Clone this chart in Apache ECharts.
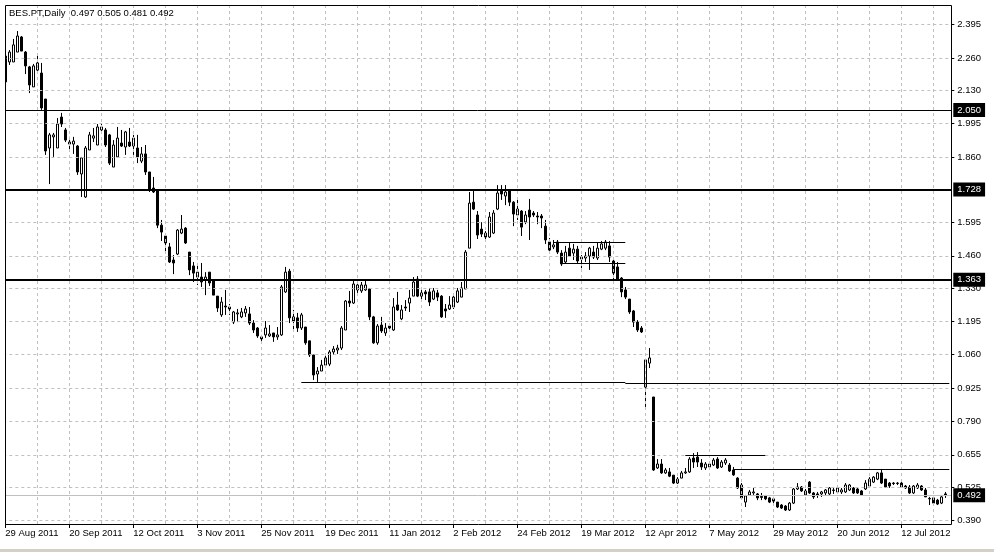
<!DOCTYPE html>
<html><head><meta charset="utf-8">
<script src="https://cdn.jsdelivr.net/npm/echarts@6/dist/echarts.min.js"></script>
<style>html,body{margin:0;padding:0;background:#fff;overflow:hidden}#c{width:994px;height:552px}</style>
</head><body><div id="c"></div>
<script>
const symbolName = 'BES.PT,Daily';
const tickLabels = ['29 Aug 2011','20 Sep 2011','12 Oct 2011','3 Nov 2011','25 Nov 2011','19 Dec 2011','11 Jan 2012','2 Feb 2012','24 Feb 2012','19 Mar 2012','12 Apr 2012','7 May 2012','29 May 2012','20 Jun 2012','12 Jul 2012'];
const priceLabels = [2.395,2.260,2.130,1.995,1.860,1.595,1.460,1.330,1.195,1.060,0.925,0.790,0.655,0.525,0.390];

const openP = [
2.163,2.244,2.244,2.284,2.345,2.284,2.224,2.143,2.211,2.199,
2.094,1.896,1.941,1.896,2.021,1.969,1.912,1.912,1.904,1.791,
1.698,1.888,1.936,1.908,1.969,1.969,1.949,1.819,1.860,1.916,
1.900,1.920,1.904,1.896,1.843,1.872,1.799,1.734,1.726,1.584,
1.540,1.496,1.443,1.467,1.552,1.572,1.475,1.419,1.374,1.374,
1.362,1.394,1.362,1.297,1.221,1.257,1.253,1.192,1.225,1.213,
1.229,1.225,1.188,1.168,1.132,1.140,1.136,1.148,1.132,1.140,
1.314,1.398,1.213,1.209,1.168,1.172,1.116,1.059,0.982,0.994,
1.018,1.022,1.071,1.079,1.087,1.160,1.277,1.269,1.322,1.318,
1.322,1.326,1.213,1.108,1.180,1.148,1.176,1.160,1.261,1.205,
1.253,1.269,1.297,1.366,1.297,1.314,1.314,1.285,1.310,1.297,
1.245,1.245,1.253,1.273,1.293,1.326,1.491,1.677,1.625,1.568,
1.552,1.536,1.552,1.649,1.722,1.702,1.722,1.677,1.625,1.641,
1.597,1.645,1.633,1.621,1.621,1.580,1.516,1.496,1.516,1.471,
1.435,1.491,1.471,1.487,1.447,1.451,1.459,1.475,1.451,1.487,
1.491,1.500,1.439,1.415,1.370,1.322,1.285,1.237,1.192,1.168,
0.929,1.026,0.889,0.602,0.618,0.582,0.586,0.573,0.541,0.561,
0.582,0.586,0.642,0.646,0.622,0.602,0.606,0.614,0.638,0.606,
0.622,0.614,0.594,0.561,0.533,0.464,0.493,0.501,0.497,0.487,
0.489,0.481,0.477,0.464,0.452,0.448,0.432,0.460,0.517,0.525,
0.493,0.545,0.501,0.497,0.497,0.501,0.497,0.513,0.505,0.505,
0.505,0.513,0.521,0.517,0.509,0.517,0.529,0.545,0.557,0.582,
0.557,0.541,0.541,0.539,0.541,0.529,0.525,0.501,0.521,0.529,
0.513,0.479,0.481,0.472,0.460,0.497];
const highP = [
2.284,2.292,2.337,2.369,2.349,2.288,2.228,2.236,2.272,2.240,
2.094,1.957,1.957,2.017,2.038,1.977,1.941,1.941,1.908,1.860,
1.904,1.961,1.977,1.993,1.997,1.977,1.953,1.928,1.981,1.969,
1.965,1.977,1.949,1.949,1.900,1.908,1.799,1.779,1.730,1.605,
1.552,1.512,1.463,1.568,1.625,1.576,1.475,1.435,1.431,1.431,
1.394,1.394,1.366,1.297,1.293,1.322,1.265,1.237,1.245,1.249,
1.257,1.253,1.200,1.172,1.140,1.196,1.180,1.148,1.172,1.342,
1.415,1.407,1.241,1.229,1.229,1.172,1.116,1.059,1.010,1.039,
1.059,1.079,1.095,1.100,1.176,1.281,1.318,1.359,1.362,1.354,
1.359,1.330,1.217,1.184,1.213,1.188,1.184,1.289,1.314,1.261,
1.281,1.322,1.374,1.378,1.330,1.322,1.330,1.330,1.322,1.301,
1.265,1.297,1.301,1.330,1.354,1.483,1.718,1.722,1.641,1.596,
1.560,1.637,1.645,1.746,1.746,1.746,1.726,1.681,1.686,1.645,
1.641,1.690,1.641,1.637,1.629,1.605,1.532,1.524,1.524,1.483,
1.500,1.512,1.508,1.500,1.463,1.475,1.496,1.500,1.512,1.520,
1.524,1.520,1.443,1.435,1.374,1.334,1.285,1.241,1.200,1.176,
1.043,1.087,0.889,0.638,0.638,0.602,0.602,0.573,0.565,0.590,
0.602,0.646,0.662,0.666,0.638,0.626,0.630,0.642,0.646,0.634,
0.642,0.622,0.606,0.565,0.541,0.493,0.513,0.521,0.501,0.501,
0.493,0.485,0.485,0.464,0.456,0.452,0.464,0.521,0.541,0.529,
0.517,0.549,0.505,0.505,0.509,0.517,0.525,0.521,0.525,0.521,
0.541,0.537,0.525,0.521,0.513,0.553,0.565,0.569,0.586,0.598,
0.557,0.545,0.545,0.545,0.545,0.533,0.533,0.533,0.541,0.533,
0.521,0.485,0.485,0.477,0.493,0.505];
const lowP = [
2.159,2.232,2.244,2.284,2.288,2.195,2.118,2.143,2.203,2.050,
1.868,1.750,1.860,1.896,1.981,1.920,1.880,1.872,1.787,1.698,
1.694,1.888,1.920,1.908,1.957,1.900,1.827,1.819,1.860,1.900,
1.868,1.900,1.868,1.835,1.835,1.787,1.718,1.714,1.572,1.520,
1.471,1.431,1.386,1.463,1.548,1.508,1.382,1.354,1.342,1.334,
1.301,1.338,1.301,1.233,1.213,1.221,1.221,1.184,1.192,1.208,
1.213,1.180,1.148,1.128,1.108,1.128,1.132,1.112,1.120,1.136,
1.310,1.188,1.152,1.152,1.160,1.100,1.051,0.958,0.950,0.994,
1.010,1.014,1.059,1.063,1.079,1.160,1.253,1.265,1.310,1.310,
1.318,1.200,1.104,1.100,1.148,1.136,1.152,1.156,1.237,1.200,
1.237,1.233,1.297,1.293,1.281,1.281,1.257,1.281,1.277,1.209,
1.209,1.241,1.245,1.269,1.293,1.326,1.491,1.645,1.528,1.536,
1.516,1.532,1.548,1.645,1.686,1.665,1.661,1.580,1.605,1.540,
1.588,1.524,1.617,1.588,1.572,1.508,1.475,1.487,1.467,1.419,
1.427,1.455,1.443,1.431,1.410,1.435,1.403,1.447,1.443,1.483,
1.483,1.435,1.366,1.362,1.293,1.285,1.225,1.172,1.152,1.148,
0.849,1.006,0.590,0.598,0.578,0.578,0.565,0.537,0.537,0.561,
0.578,0.582,0.602,0.606,0.594,0.594,0.598,0.610,0.598,0.602,
0.614,0.586,0.570,0.517,0.477,0.444,0.489,0.493,0.472,0.472,
0.472,0.460,0.460,0.440,0.436,0.428,0.428,0.456,0.513,0.505,
0.489,0.497,0.477,0.481,0.485,0.489,0.493,0.497,0.501,0.497,
0.501,0.509,0.497,0.497,0.489,0.513,0.525,0.541,0.553,0.537,
0.521,0.521,0.533,0.533,0.521,0.517,0.497,0.497,0.517,0.509,
0.485,0.452,0.452,0.452,0.456,0.481];
const closeP = [
2.268,2.284,2.313,2.349,2.288,2.228,2.151,2.228,2.240,2.058,
1.884,1.949,1.949,1.993,1.993,1.928,1.920,1.924,1.799,1.856,
1.896,1.949,1.945,1.981,1.981,1.908,1.835,1.908,1.936,1.904,
1.961,1.904,1.936,1.860,1.872,1.799,1.726,1.718,1.584,1.556,
1.512,1.435,1.431,1.564,1.568,1.512,1.403,1.390,1.394,1.354,
1.374,1.350,1.301,1.249,1.273,1.253,1.245,1.233,1.229,1.233,
1.245,1.188,1.160,1.136,1.124,1.168,1.144,1.132,1.140,1.334,
1.394,1.209,1.196,1.168,1.221,1.108,1.059,0.978,0.994,1.018,
1.047,1.071,1.083,1.087,1.168,1.277,1.269,1.346,1.342,1.342,
1.342,1.213,1.108,1.176,1.156,1.168,1.168,1.253,1.241,1.241,
1.249,1.289,1.354,1.297,1.310,1.306,1.273,1.318,1.293,1.213,
1.237,1.261,1.293,1.318,1.330,1.475,1.673,1.649,1.544,1.548,
1.536,1.617,1.633,1.714,1.710,1.718,1.677,1.629,1.649,1.576,
1.625,1.617,1.625,1.617,1.613,1.524,1.483,1.504,1.475,1.427,
1.475,1.459,1.487,1.439,1.455,1.459,1.491,1.455,1.491,1.508,
1.516,1.455,1.390,1.362,1.314,1.293,1.233,1.192,1.160,1.152,
1.039,1.047,0.594,0.618,0.582,0.594,0.569,0.541,0.557,0.582,
0.586,0.638,0.626,0.626,0.606,0.618,0.618,0.634,0.602,0.626,
0.634,0.590,0.574,0.521,0.481,0.489,0.505,0.505,0.481,0.483,
0.477,0.464,0.468,0.444,0.440,0.432,0.460,0.517,0.525,0.509,
0.509,0.501,0.485,0.493,0.505,0.513,0.521,0.511,0.521,0.513,
0.533,0.533,0.501,0.501,0.493,0.541,0.557,0.565,0.582,0.541,
0.525,0.529,0.539,0.541,0.525,0.521,0.501,0.529,0.533,0.513,
0.485,0.477,0.460,0.456,0.485,0.492];

// horizontal price levels (full width) and their widths
const levelPrices = [2.050, 1.728, 1.363];
const levelWidths = [1, 2, 2];
// short trend segments: start bar, end bar, price
const segStart = [74, 155, 137, 139, 170, 182];
const segEnd   = [155, 236, 155, 155, 190, 236];
const segPrice = [0.950, 0.946, 1.516, 1.431, 0.652, 0.598];

const FONT = 'Liberation Sans';
const n = openP.length;
const categories = [];
for (let i = 0; i <= n; i++) categories.push(String(i));
const candles = openP.map((o, i) => [o, closeP[i], lowP[i], highP[i]]);
const lastPrice = closeP[n - 1];
const fmt3 = v => Number(v).toFixed(3);

const gridLines = [];
priceLabels.forEach(p => gridLines.push({ yAxis: p }));
for (let k = 8; k < n; k += 8) gridLines.push({ xAxis: k });

const objLines = [];
levelPrices.forEach((p, i) => objLines.push({
  yAxis: p,
  lineStyle: { color: '#000', width: levelWidths[i], type: 'solid' },
  label: { show: true }
}));
segPrice.forEach((p, i) => objLines.push([
  { coord: [segStart[i], p], lineStyle: { color: '#000', width: 1, type: 'solid' }, label: { show: false } },
  { coord: [segEnd[i], p] }
]));

const chart = echarts.init(document.getElementById('c'), null, { renderer: 'canvas' });
chart.setOption({
  animation: false,
  backgroundColor: '#fff',
  title: {
    text: symbolName + '  ' + fmt3(openP[n-1]) + ' ' + fmt3(highP[n-1]) + ' ' + fmt3(lowP[n-1]) + ' ' + fmt3(closeP[n-1]),
    left: 9, top: 8, padding: 0,
    textStyle: { fontFamily: FONT, fontSize: 9.5, fontWeight: 'normal', color: '#000' }
  },
  grid: { left: 3.3, top: 5, width: 948, height: 519, show: false, containLabel: false, outerBoundsMode: 'none' },
  xAxis: {
    type: 'category', data: categories, boundaryGap: true,
    axisLine: { show: false },
    axisTick: { show: true, alignWithLabel: true, length: 4, interval: (i) => i % 16 === 0, lineStyle: { color: '#000' } },
    axisLabel: {
      interval: (i) => i % 16 === 0,
      formatter: (v, i) => tickLabels[i / 16] || '',
      align: 'left', margin: 4, fontFamily: FONT, fontSize: 9.5, color: '#000'
    },
    splitLine: { show: false }
  },
  yAxis: {
    type: 'value', position: 'right', min: 0.3754, max: 2.4743, scale: true,
    axisLine: { show: false },
    splitLine: { show: false },
    axisTick: { show: true, customValues: priceLabels, length: 3, lineStyle: { color: '#000' } },
    axisLabel: { customValues: priceLabels, formatter: fmt3, margin: 6, fontFamily: FONT, fontSize: 9.5, color: '#000' }
  },
  series: [
    {
      type: 'line', data: [], z: 1, silent: true,
      markLine: {
        silent: true, symbol: ['none', 'none'], animation: false, precision: 4,
        label: { show: false },
        lineStyle: { color: '#c0c0c0', type: [3, 3], width: 1 },
        emphasis: { disabled: true },
        data: gridLines
      }
    },
    {
      type: 'candlestick', data: candles, barWidth: 2, z: 2, silent: true,
      itemStyle: { color: '#fff', color0: '#000', borderColor: '#000', borderColor0: '#000', borderWidth: 1 },
      markLine: {
        silent: true, symbol: ['none', 'none'], animation: false, precision: 4,
        emphasis: { disabled: true },
        label: {
          show: true, position: 'end', distance: 2, formatter: p => fmt3(p.value),
          backgroundColor: '#000', color: '#fff', padding: [2, 4, 2, 4],
          fontFamily: FONT, fontSize: 9.5
        },
        data: objLines.concat([{
          yAxis: lastPrice,
          lineStyle: { color: '#c0c0c0', width: 1, type: 'solid' },
          label: { show: true }
        }])
      }
    }
  ],
  graphic: [
    { type: 'rect', z: 100, shape: { x: 0, y: 4, width: 5, height: 522 }, style: { fill: '#fff' }, silent: true },
    { type: 'rect', z: 101, shape: { x: 5.5, y: 5.5, width: 946, height: 519 }, style: { fill: null, stroke: '#000', lineWidth: 1 }, silent: true },
    { type: 'rect', z: 101, shape: { x: 0, y: 549, width: 994, height: 3 }, style: { fill: '#d4d0c8' }, silent: true }
  ]
});
</script>
</body></html>
